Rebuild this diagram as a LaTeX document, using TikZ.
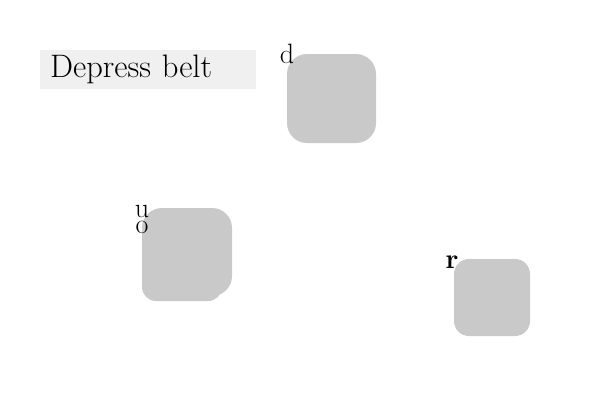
\documentclass[tikz,border=0pt]{standalone}
\begin{document}
\begin{tikzpicture}[x=1pt,y=-1pt,
  blk/.style={fill=black!21,draw=none,rounded corners=#1},
  blk/.default=18pt,
  lbl/.style={inner sep=0pt,anchor=center,font=\fontsize{28}{32}\selectfont},
  ttl/.style={fill=black!6,draw=none,minimum width=216pt,minimum height=39pt,anchor=north west,inner xsep=10pt,inner ysep=0pt,text width=196pt,align=left,font=\fontsize{32.5}{38}\selectfont}]
\useasboundingbox (0,0) rectangle (600,400);
\node[ttl] (title) at (40,50) {Depress belt};
% boxes
\path[blk=14pt] (142,222) rectangle (222,301);
\path[blk=20pt] (142,208) rectangle (232,296);
\path[blk=20pt] (287,54) rectangle (376,143);
\path[blk=15pt] (454,259) rectangle (530,336);
% labels
\node[lbl] (ld) at (287,54) {d};
\node[lbl] (lu) at (142,211) {u};
\node[lbl] (lo) at (142,227) {o};
\node[lbl] (lr) at (452,262) {\textbf{r}};
\end{tikzpicture}
\end{document}
